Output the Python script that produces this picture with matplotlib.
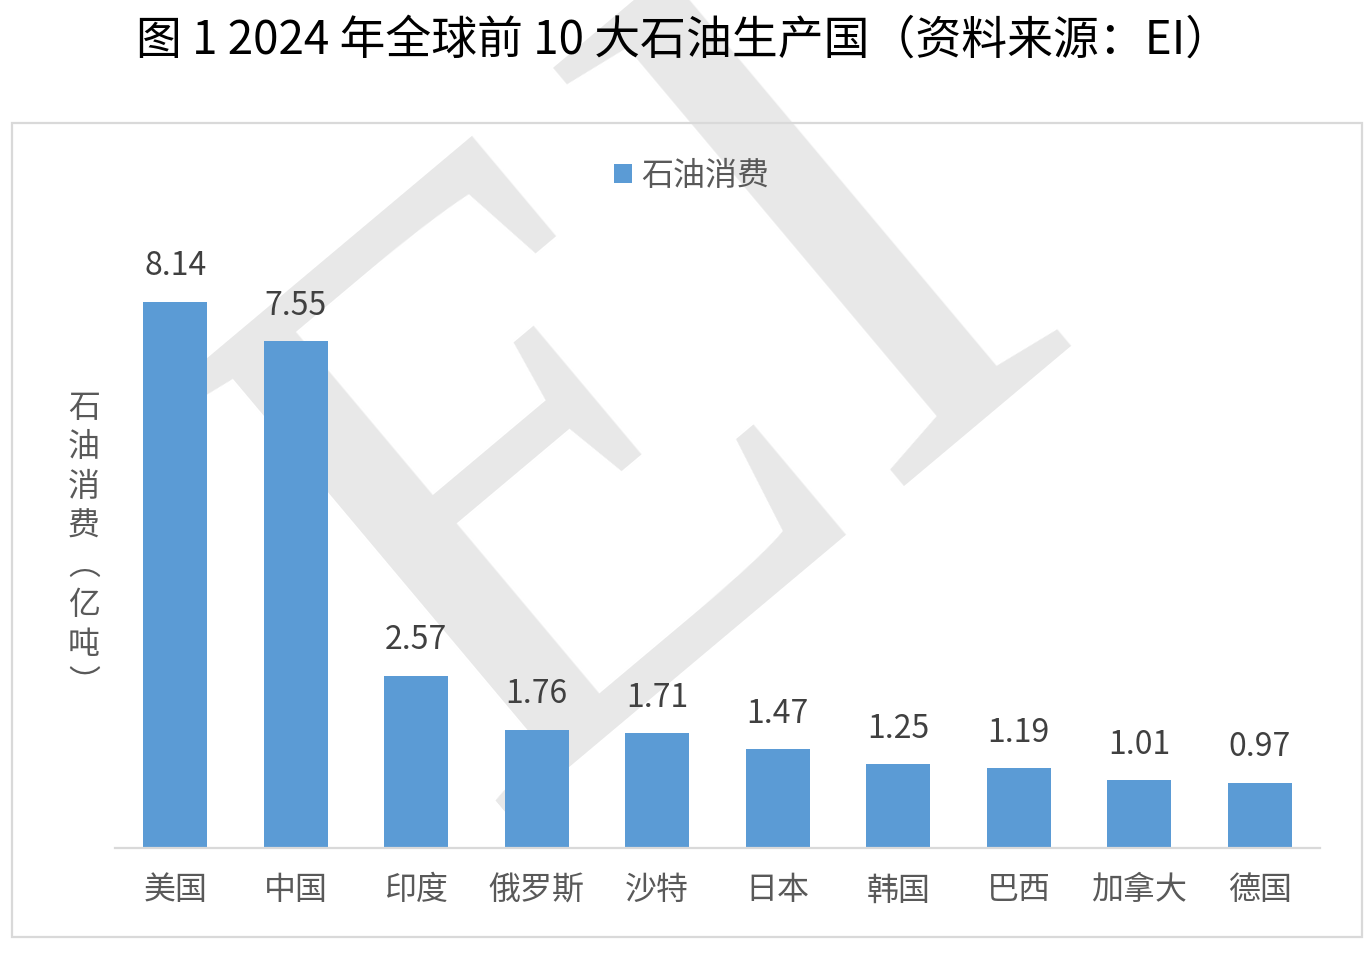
import matplotlib
matplotlib.use('Agg')
import matplotlib.pyplot as plt
from matplotlib.patches import Rectangle

plt.rcParams['font.family'] = ['Noto Sans CJK SC', 'DejaVu Sans']

countries = ['美国', '中国', '印度', '俄罗斯', '沙特', '日本', '韩国', '巴西', '加拿大', '德国']
consumption = [8.14, 7.55, 2.57, 1.76, 1.71, 1.47, 1.25, 1.19, 1.01, 0.97]
series_name = '石油消费'
title = '图 1 2024 年全球前 10 大石油生产国（资料来源：EI）'
ylabel_chars = ['石', '油', '消', '费', '︵', '亿', '吨', '︶']

bar_color = '#5b9bd5'
text_color = '#595959'
frame_color = '#d9d9d9'

W, H = 1372, 977
fig = plt.figure(figsize=(W / 100, H / 100), dpi=100)

# watermark, kept behind everything
fig.text(0.48, 0.58, 'EI', family='Liberation Serif', fontsize=600,
         color='#e8e8e8', rotation=40, ha='center', va='center', zorder=-5)

# outer frame
fig.patches.append(Rectangle((12 / W, 1 - 937 / H), 1350 / W, 814 / H,
                             transform=fig.transFigure, fill=False,
                             edgecolor=frame_color, linewidth=1.6, zorder=1))

fig.text(684 / W, 1 - 40 / H, title, fontsize=33, color='black',
         ha='center', va='center')

ymax = 9.0
ax = fig.add_axes([115 / W, 1 - 848 / H, 1205 / W, ymax * 67.1 / H])
ax.set_facecolor('none')
x = range(len(countries))
bars = ax.bar(x, consumption, width=0.53, color=bar_color, label=series_name,
              zorder=2)
for xi, v in zip(x, consumption):
    ax.annotate(f'{v:.2f}', (xi, v), xytext=(0, 14), textcoords='offset points',
                ha='center', va='bottom', fontsize=23, color='#404040',
                weight='light')

ax.set_xlim(-0.5, len(countries) - 0.5)
ax.set_ylim(0, ymax)
ax.set_xticks(list(x))
ax.set_xticklabels(countries, fontsize=23, color=text_color, weight='light')
ax.tick_params(axis='x', length=0, pad=19)
ax.set_yticks([])
for s in ['top', 'right', 'left']:
    ax.spines[s].set_visible(False)
ax.spines['bottom'].set_color(frame_color)
ax.spines['bottom'].set_linewidth(1.6)

leg = fig.legend(handles=[bars], labels=[series_name], loc='center',
                 bbox_to_anchor=(692 / W, 1 - 176 / H), frameon=False,
                 fontsize=23, handlelength=0.55, handleheight=0.55,
                 handletextpad=0.3, labelcolor=text_color)

fig.text(84 / W, 1 - 546 / H, '\n'.join(ylabel_chars), fontsize=23,
         color=text_color, ha='center', va='center', linespacing=1.3,
         weight='light')

fig.savefig('out.png', dpi=100, facecolor='white')
